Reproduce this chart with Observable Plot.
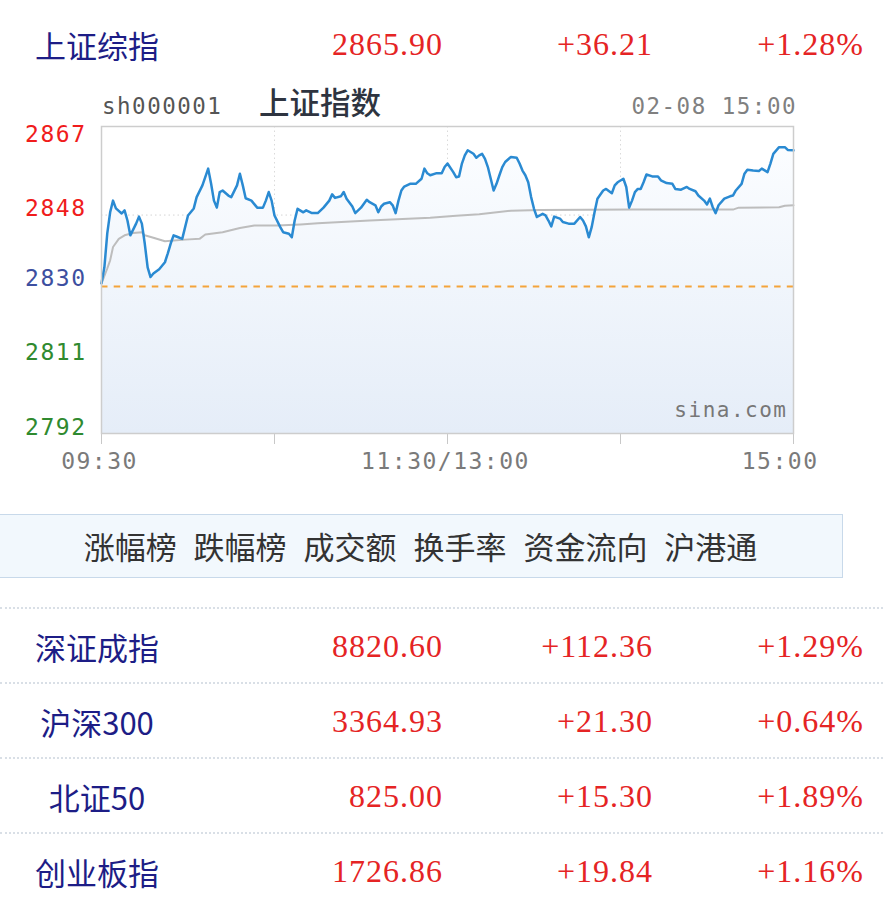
<!DOCTYPE html>
<html><head><meta charset="utf-8">
<script src="https://cdn.jsdelivr.net/npm/d3@7"></script>
<script src="https://cdn.jsdelivr.net/npm/@observablehq/plot@0.6"></script>
<style>
html,body{margin:0;padding:0;background:#fff;}
body{width:883px;height:912px;position:relative;overflow:hidden;font-family:"Noto Sans CJK SC",sans-serif;}
.row{position:absolute;left:0;width:883px;height:75px;line-height:75px;}
.row.sep{border-top:2px dotted #d9dfe6;box-sizing:border-box;}
.nm{position:absolute;left:0;width:194px;text-align:center;font-family:"Noto Sans CJK SC",sans-serif;font-size:31px;color:#1d1d86;}
.num{position:absolute;text-align:right;font-family:"Liberation Serif",serif;font-size:32px;letter-spacing:1px;color:#e52424;}
.mono{font-family:"DejaVu Sans Mono",monospace;letter-spacing:1.5px;}
#tab{position:absolute;left:-2px;top:514px;width:845px;height:64px;background:#f2f8fd;border:1.5px solid #c8d9ea;box-sizing:border-box;text-align:center;line-height:62px;font-size:31px;color:#333;word-spacing:10px;white-space:pre;}
#chart{position:absolute;left:0;top:118px;}
</style></head><body>
<div id="page"></div>
<script>
// ---- data ----
const prevClose = 2829.69;
const indexNames = ["上证综指", "深证成指", "沪深300", "北证50", "创业板指"];
const indexPrices = [2865.90, 8820.60, 3364.93, 825.00, 1726.86];
const indexChanges = [36.21, 112.36, 21.30, 15.30, 19.84];
const indexPcts = [1.28, 1.29, 0.64, 1.89, 1.16];
const tabLabels = ["涨幅榜", "跌幅榜", "成交额", "换手率", "资金流向", "沪港通"];
const chartCode = "sh000001";
const chartName = "上证指数";
const chartTime = "02-08 15:00";
// minutes since 09:30 (trading minutes, 0..240)
const priceMin = [0,1,2,3,4,5,7,8,9,10,12,13,14,15,16,17,18,20,22,23,24,25,26,28,29,30,32,33,35,37,38,39,40,41,42,44,45,47,48,49,50,52,54,56,57,58,59,60,62,63,65,66,67,68,70,71,73,75,77,79,80,81,83,84,85,87,88,90,92,93,95,96,97,98,100,101,102,103,104,105,107,109,111,112,113,114,116,118,119,120,122,123,124,125,126,127,129,130,131,132,133,134,135,136,137,138,139,140,142,144,145,146,147,148,149,150,151,153,154,155,156,157,159,160,162,164,166,167,168,169,170,171,172,174,175,177,178,179,181,182,183,184,185,186,187,188,189,191,193,194,196,198,199,201,203,204,206,207,209,210,211,212,213,214,216,218,219,220,222,223,224,226,228,229,231,232,233,235,237,238,240];
const priceVal = [2830.5,2834.6,2843.3,2848.7,2851.7,2849.7,2848.4,2849.2,2846.6,2842.8,2845.8,2847.6,2845.8,2840.7,2834.6,2832.1,2833.0,2834.1,2835.9,2838.2,2840.7,2842.8,2842.5,2841.9,2844.9,2847.9,2849.7,2852.6,2855.6,2859.9,2856.1,2851.7,2849.9,2853.9,2854.3,2853.0,2852.6,2855.6,2858.6,2855.6,2852.3,2851.7,2849.9,2849.9,2851.7,2853.9,2851.7,2847.9,2844.9,2843.6,2843.2,2842.3,2846.6,2849.6,2848.7,2849.2,2848.5,2848.5,2849.9,2851.7,2853.3,2852.4,2852.8,2853.9,2852.2,2850.2,2848.5,2849.9,2851.9,2851.3,2850.5,2848.7,2850.2,2850.9,2851.3,2850.5,2848.5,2851.7,2854.3,2855.3,2856.0,2856.0,2857.3,2859.9,2858.7,2858.2,2858.7,2858.7,2860.3,2861.2,2859.0,2857.7,2857.9,2861.2,2863.3,2864.6,2863.7,2862.7,2863.3,2863.7,2862.4,2860.3,2857.3,2854.3,2856.0,2858.2,2860.3,2861.6,2862.9,2862.7,2861.2,2859.4,2858.2,2856.4,2852.6,2849.6,2847.5,2848.3,2847.9,2846.6,2845.1,2847.6,2847.1,2846.2,2845.8,2845.8,2847.5,2846.6,2845.1,2842.3,2844.9,2848.7,2852.2,2854.3,2854.7,2853.6,2855.6,2856.4,2857.3,2855.2,2849.9,2851.7,2853.9,2854.7,2854.7,2856.4,2858.4,2857.9,2857.9,2856.9,2856.2,2856.0,2854.7,2854.5,2855.2,2854.7,2854.1,2853.0,2851.7,2850.7,2852.2,2850.0,2848.5,2850.5,2852.2,2852.8,2853.0,2854.3,2856.0,2858.6,2859.6,2859.4,2859.3,2859.9,2859.0,2861.2,2863.7,2865.4,2865.4,2864.7,2864.6];
const avgMin = [0,2,3,4,6,8,11,14,15,18,22,29,34,36,42,48,53,61,69,75,93,114,123,131,142,152,184,219,221,235,237,240];
const avgVal = [2830.5,2834.3,2836.4,2839.8,2841.9,2842.8,2843.4,2843.6,2842.8,2842.2,2841.3,2841.7,2841.9,2843.0,2843.6,2844.7,2845.3,2845.3,2845.6,2845.9,2846.6,2847.3,2847.8,2848.2,2849.1,2849.3,2849.4,2849.4,2849.9,2850.0,2850.4,2850.5];
const yTicks = [2867, 2848, 2830, 2811, 2792];
const xTicks = [0, 60, 120, 180, 240];
const xTickLabels = ["09:30", "", "11:30/13:00", "", "15:00"];
const yDomain = [2792.0, 2870.7];

// ---- build page ----
const page = document.getElementById("page");
const fmtSigned = v => "+" + v.toFixed(2);
function makeRow(i, top, sep) {
  const r = document.createElement("div");
  r.className = "row" + (sep ? " sep" : "");
  r.style.top = top + "px";
  r.innerHTML =
    `<div class="nm">${indexNames[i]}</div>` +
    `<div class="num" style="right:440px">${indexPrices[i].toFixed(2)}</div>` +
    `<div class="num" style="right:230px">${fmtSigned(indexChanges[i])}</div>` +
    `<div class="num" style="right:19px">${fmtSigned(indexPcts[i])}%</div>`;
  page.appendChild(r);
}
makeRow(0, 7, false);

const ttl = document.createElement("div");
ttl.style.cssText = "position:absolute;left:0;top:88px;width:883px;height:36px;";
ttl.innerHTML =
  `<span class="mono" style="position:absolute;left:102px;top:6px;font-size:22.5px;line-height:24px;color:#555">${chartCode}</span>` +
  `<span style="position:absolute;left:259px;top:-5px;font-size:30.5px;line-height:36px;color:#2e3440;font-weight:500">${chartName}</span>` +
  `<span class="mono" style="position:absolute;right:86px;top:6px;font-size:22.5px;line-height:24px;color:#808080">${chartTime}</span>`;
page.appendChild(ttl);

const price = priceMin.map((m, i) => ({m, v: priceVal[i]}));
const avg = avgMin.map((m, i) => ({m, v: avgVal[i]}));
const xLab = xTicks.map((t, i) => ({t, label: xTickLabels[i]})).filter(d => d.label);

const defs = () => {
  const d = d3.create("svg:defs");
  const g = d.append("linearGradient").attr("id", "fillGrad").attr("x1", 0).attr("x2", 0).attr("y1", 0).attr("y2", 1);
  g.append("stop").attr("offset", "0%").attr("stop-color", "#fbfdff");
  g.append("stop").attr("offset", "100%").attr("stop-color", "#e5edf8");
  return d.node();
};
const tickColor = v => v > prevClose + 1 ? "#f01c1c" : v < prevClose - 1 ? "#2f8a2f" : "#3d4fa0";

const chart = Plot.plot({
  width: 883, height: 372,
  marginLeft: 101, marginRight: 90, marginTop: 8, marginBottom: 57,
  style: {background: "transparent", color: "#c8c8c8", fontFamily: "'DejaVu Sans Mono', monospace", letterSpacing: "1.5px", overflow: "visible"},
  x: {domain: [0, 240], ticks: xTicks, tickFormat: () => "", tickSize: 11, tickPadding: 0, label: null},
  y: {domain: yDomain, axis: null},
  marks: [
    defs,
    Plot.ruleX(xTicks.filter(t => t > 0 && t < 240), {stroke: "#dadada", strokeDasharray: "1.5,3"}),
    Plot.ruleY(yTicks.filter(t => t > yDomain[0] + 1 && t < 2860 && Math.abs(t - prevClose) > 1), {stroke: "#d4d4d4", strokeDasharray: "1.5,3"}),
    Plot.areaY(price, {x: "m", y1: yDomain[0], y2: "v", fill: "url(#fillGrad)", curve: "linear"}),
    Plot.ruleY([prevClose], {stroke: "#f4a43a", strokeWidth: 2, strokeDasharray: "6.5,6.2"}),
    Plot.line(avg, {x: "m", y: "v", stroke: "#bdbdbd", strokeWidth: 2}),
    Plot.line(price, {x: "m", y: "v", stroke: "#2a8ad2", strokeWidth: 2.5, strokeLinejoin: "round"}),
    Plot.frame({stroke: "#cdcdcd", strokeWidth: 1.5}),
    Plot.text(yTicks, {y: d => d, text: d => String(d), frameAnchor: "left", textAnchor: "end", lineAnchor: "bottom", dx: -15, dy: 1, fontSize: 23, fill: tickColor}),
    Plot.text(xLab.filter(d => d.t < 240), {x: "t", text: "label", frameAnchor: "bottom", lineAnchor: "middle", dy: 28, dx: -2, fontSize: 23, fill: "#7a7a7a"}),
    Plot.text(xLab.filter(d => d.t === 240), {x: "t", text: "label", frameAnchor: "bottom", lineAnchor: "middle", textAnchor: "end", dy: 28, dx: 25, fontSize: 23, fill: "#7a7a7a"}),
    Plot.text(["sina.com"], {frameAnchor: "bottom-right", textAnchor: "end", lineAnchor: "middle", dx: -6, dy: -23, fontSize: 21, fill: "#777"})
  ]
});
chart.id = "chart";
page.appendChild(chart);

const tab = document.createElement("div");
tab.id = "tab";
tab.textContent = tabLabels.join(" ");
page.appendChild(tab);

[1, 2, 3, 4].forEach((i, k) => makeRow(i, 607 + 75 * k, true));
</script>
</body></html>
